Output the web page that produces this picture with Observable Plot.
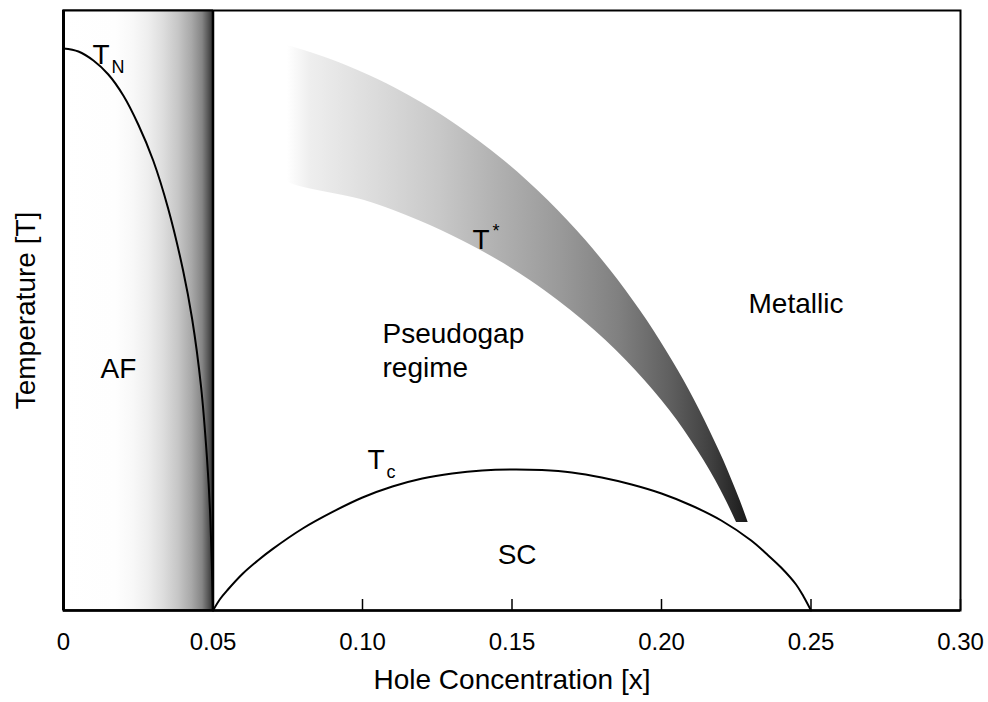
<!DOCTYPE html>
<html>
<head>
<meta charset="utf-8">
<script src="https://cdn.jsdelivr.net/npm/d3@7"></script>
<script src="https://cdn.jsdelivr.net/npm/@observablehq/plot@0.6"></script>
<style>
  html, body { margin: 0; padding: 0; background: white; }
</style>
</head>
<body>
<div id="chart"></div>
<script>
// ---- data ----
const xTicks = [0, 0.05, 0.10, 0.15, 0.20, 0.25, 0.30];
const xTickLabels = ["0", "0.05", "0.10", "0.15", "0.20", "0.25", "0.30"];

// AF region: hole concentration range
const afBoundary = [0, 0.05];

// Néel temperature curve T_N
const tnX = [0, 0.005, 0.010, 0.015, 0.020, 0.025, 0.030, 0.035, 0.040, 0.043, 0.046, 0.048, 0.049, 0.050];
const tnT = [281, 279.5, 275, 268, 257.5, 243, 225, 201, 170, 146, 112, 76, 50, 0];

// Superconducting dome T_c
const tcX = [0.05, 0.0525, 0.055, 0.06, 0.065, 0.07, 0.08, 0.09, 0.10, 0.11, 0.12, 0.13, 0.14, 0.15, 0.16, 0.17, 0.18, 0.19, 0.20, 0.21, 0.22, 0.23, 0.235, 0.24, 0.245, 0.2475, 0.25];
const tcT = [0, 6, 10.5, 18.5, 25, 30.8, 41, 49.3, 56.5, 62, 66, 68.5, 70, 70.5, 70.2, 69, 66.5, 63, 58.5, 52.5, 45, 35, 28.5, 21.5, 13, 7, 0];

// Pseudogap crossover band T*: x of its inner (lower) and outer (upper) edge at each temperature
const tStarT = [282.5, 279, 275, 270, 265, 257.5, 250, 242.5, 235, 225, 215, 205, 195, 185, 175, 165,
                155, 145, 135, 125, 115, 105, 95, 85, 75, 65, 55, 44];
const tStarInner = [0.0749, 0.0749, 0.0749, 0.0749, 0.0749, 0.0749, 0.0749, 0.0749, 0.0749, 0.0749, 0.0749,
                    0.1007, 0.1188, 0.1332, 0.1455, 0.1561, 0.1654, 0.1738, 0.1814, 0.1882, 0.1944, 0.2001,
                    0.2053, 0.2099, 0.2142, 0.2181, 0.2216, 0.2251];
const tStarOuter = [0.0749, 0.0826, 0.0903, 0.0985, 0.1059, 0.1155, 0.1241, 0.1317, 0.1387, 0.1473, 0.1550,
                    0.1621, 0.1686, 0.1747, 0.1803, 0.1856, 0.1905, 0.1952, 0.1995, 0.2036, 0.2075, 0.2111,
                    0.2145, 0.2177, 0.2208, 0.2236, 0.2263, 0.2290];

// Region labels
const regionText = ["AF", "Pseudogap\nregime", "Metallic", "SC"];
const regionX = [0.0124, 0.1067, 0.2291, 0.1452];
const regionT = [116.5, 117, 149, 23.5];

// Temperature symbols
const symbolText = ["T", "T", "T"];
const symbolX = [0.0097, 0.1368, 0.1017];
const symbolT = [273.5, 181, 71];
const subText = ["N", "c"];
const subX = [0.0097, 0.1017];
const subT = [273.5, 71];
const supText = ["*"];
const supX = [0.1368];
const supT = [181];

// ---- tables built from the arrays ----
const tn = tnX.map((x, i) => ({x, t: tnT[i]}));
const tc = tcX.map((x, i) => ({x, t: tcT[i]}));
const tStar = tStarT.map((t, i) => ({t, inner: tStarInner[i], outer: tStarOuter[i]}));
const regions = regionText.map((s, i) => ({s, x: regionX[i], t: regionT[i]}));
const symbols = symbolText.map((s, i) => ({s, x: symbolX[i], t: symbolT[i]}));
const subs = subText.map((s, i) => ({s, x: subX[i], t: subT[i]}));
const sups = supText.map((s, i) => ({s, x: supX[i], t: supT[i]}));

function gradientDefs() {
  const ns = "http://www.w3.org/2000/svg";
  const defs = document.createElementNS(ns, "defs");
  function grad(id, stops) {
    const g = document.createElementNS(ns, "linearGradient");
    g.setAttribute("id", id);
    g.setAttribute("x1", "0"); g.setAttribute("x2", "1");
    g.setAttribute("y1", "0"); g.setAttribute("y2", "0");
    for (const [o, c] of stops) {
      const s = document.createElementNS(ns, "stop");
      s.setAttribute("offset", o);
      s.setAttribute("stop-color", c);
      g.appendChild(s);
    }
    defs.appendChild(g);
  }
  grad("afGrad", [[0, "#ffffff"], [0.35, "#fefefe"], [0.47, "#f8f8f8"], [0.57, "#eeeeee"], [0.67, "#dddddd"],
                  [0.77, "#c6c6c6"], [0.86, "#a8a8a8"], [0.93, "#858585"], [0.97, "#585858"], [1, "#333333"]]);
  grad("tsGrad", [[0, "#ffffff"], [0.05, "#eeeeee"], [0.18, "#dddddd"], [0.33, "#c8c8c8"], [0.46, "#b0b0b0"],
                  [0.59, "#9a9a9a"], [0.72, "#808080"], [0.83, "#606060"], [0.92, "#404040"], [1, "#1a1a1a"]]);
  return defs;
}

const font = "'Liberation Sans', Arial, Helvetica, sans-serif";

const chart = Plot.plot({
  width: 988,
  height: 702,
  marginLeft: 63,
  marginRight: 28,
  marginTop: 10,
  marginBottom: 92,
  style: {fontFamily: font, background: "white", color: "black", overflow: "visible"},
  x: {domain: [0, 0.30]},
  y: {domain: [0, 300], axis: null},
  marks: [
    gradientDefs,
    Plot.rect([afBoundary], {x1: d => d[0], x2: d => d[1], fill: "url(#afGrad)", stroke: "black", strokeWidth: 1}),
    Plot.areaX(tStar, {y: "t", x1: "inner", x2: "outer", fill: "url(#tsGrad)", curve: "monotone-y"}),
    Plot.line(tn, {x: "x", y: "t", stroke: "black", strokeWidth: 2, curve: "catmull-rom"}),
    Plot.line(tc, {x: "x", y: "t", stroke: "black", strokeWidth: 2, curve: "catmull-rom"}),
    Plot.ruleX([afBoundary[1]], {stroke: "black", strokeWidth: 2.5}),
    Plot.frame({stroke: "black", strokeWidth: 2}),
    Plot.ruleX([0], {stroke: "black", strokeWidth: 3}),
    Plot.ruleY([0], {stroke: "black", strokeWidth: 2.5}),
    Plot.axisX(xTicks, {tickSize: 11, dy: -11, fill: "none", stroke: "black", strokeWidth: 1.5, label: null}),
    Plot.axisX(xTicks, {tickSize: 0, tickPadding: 22, fontSize: 24, fill: "black",
                        tickFormat: d => xTickLabels[xTicks.indexOf(d)], label: null}),
    Plot.text(regions, {x: "x", y: "t", text: "s", fontSize: 28, textAnchor: "start", lineAnchor: "bottom", lineHeight: 1.18, fill: "black"}),
    Plot.text(symbols, {x: "x", y: "t", text: "s", fontSize: 28, textAnchor: "start", lineAnchor: "bottom", fill: "black"}),
    Plot.text(subs, {x: "x", y: "t", text: "s", fontSize: 18, textAnchor: "start", lineAnchor: "bottom", dx: 19, dy: 9, fill: "black"}),
    Plot.text(sups, {x: "x", y: "t", text: "s", fontSize: 18, textAnchor: "start", lineAnchor: "bottom", dx: 20, dy: -12, fill: "black"}),
    Plot.text(["Hole Concentration [x]"], {text: d => d, frameAnchor: "bottom", textAnchor: "middle", dy: 78, fontSize: 28, fill: "black"}),
    Plot.text(["Temperature [T]"], {text: d => d, frameAnchor: "left", textAnchor: "middle", dx: -37, rotate: -90, fontSize: 28, fill: "black"})
  ]
});

document.getElementById("chart").appendChild(chart);
</script>
</body>
</html>
